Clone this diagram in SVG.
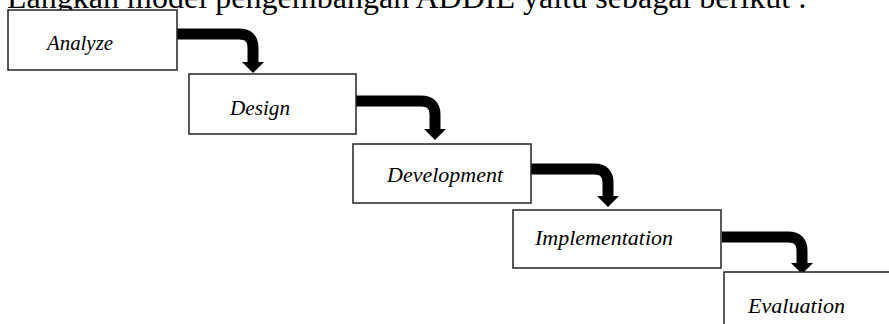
<svg xmlns="http://www.w3.org/2000/svg" width="889" height="324" viewBox="0 0 889 324">
  <style>
    .box { fill: #ffffff; stroke: #222222; stroke-width: 1.5; }
    .lbl { font-family: "Liberation Serif", "Times New Roman", serif; font-style: italic; font-size: 21px; fill: #000000; }
    .title { font-family: "Liberation Serif", "Times New Roman", serif; font-size: 32px; fill: #000000; }
    .band { fill: none; stroke: #000000; stroke-width: 11; stroke-linejoin: round; }
    .head { fill: #000000; stroke: none; }
  </style>
  <rect x="0" y="0" width="889" height="324" fill="#ffffff"/>
  <text class="title" x="7" y="8" textLength="800" lengthAdjust="spacing">Langkah model pengembangan ADDIE yaitu sebagai berikut :</text>

  <g id="connectors">
    <g id="arrow-analyze-design">
      <path class="band" d="M177,34 H239 Q253,34 253,48 V63"/>
      <polygon class="head" points="242,62 264,62 253,73"/>
    </g>
    <g id="arrow-design-development">
      <path class="band" d="M356,101 H421 Q435,101 435,115 V130"/>
      <polygon class="head" points="424,129 446,129 435,140"/>
    </g>
    <g id="arrow-development-implementation">
      <path class="band" d="M531,169 H594 Q608,169 608,183 V197"/>
      <polygon class="head" points="597,196 619,196 608,207"/>
    </g>
    <g id="arrow-implementation-evaluation">
      <path class="band" d="M722,237 H788 Q802,237 802,251 V264"/>
      <polygon class="head" points="791,263 813,263 802,274"/>
    </g>
  </g>

  <g id="node-analyze">
    <rect class="box" x="8" y="10" width="169" height="60"/>
    <text class="lbl" x="47" y="50" textLength="66" lengthAdjust="spacingAndGlyphs">Analyze</text>
  </g>
  <g id="node-design">
    <rect class="box" x="189" y="74" width="167" height="60"/>
    <text class="lbl" x="230" y="115" textLength="60" lengthAdjust="spacingAndGlyphs">Design</text>
  </g>
  <g id="node-development">
    <rect class="box" x="353" y="144" width="178" height="59"/>
    <text class="lbl" x="387" y="182" textLength="116" lengthAdjust="spacingAndGlyphs">Development</text>
  </g>
  <g id="node-implementation">
    <rect class="box" x="513" y="210" width="208" height="58"/>
    <text class="lbl" x="535" y="245" textLength="138" lengthAdjust="spacingAndGlyphs">Implementation</text>
  </g>
  <g id="node-evaluation">
    <rect class="box" x="724" y="272" width="200" height="80"/>
    <text class="lbl" x="748" y="313" textLength="97" lengthAdjust="spacingAndGlyphs">Evaluation</text>
  </g>
</svg>
